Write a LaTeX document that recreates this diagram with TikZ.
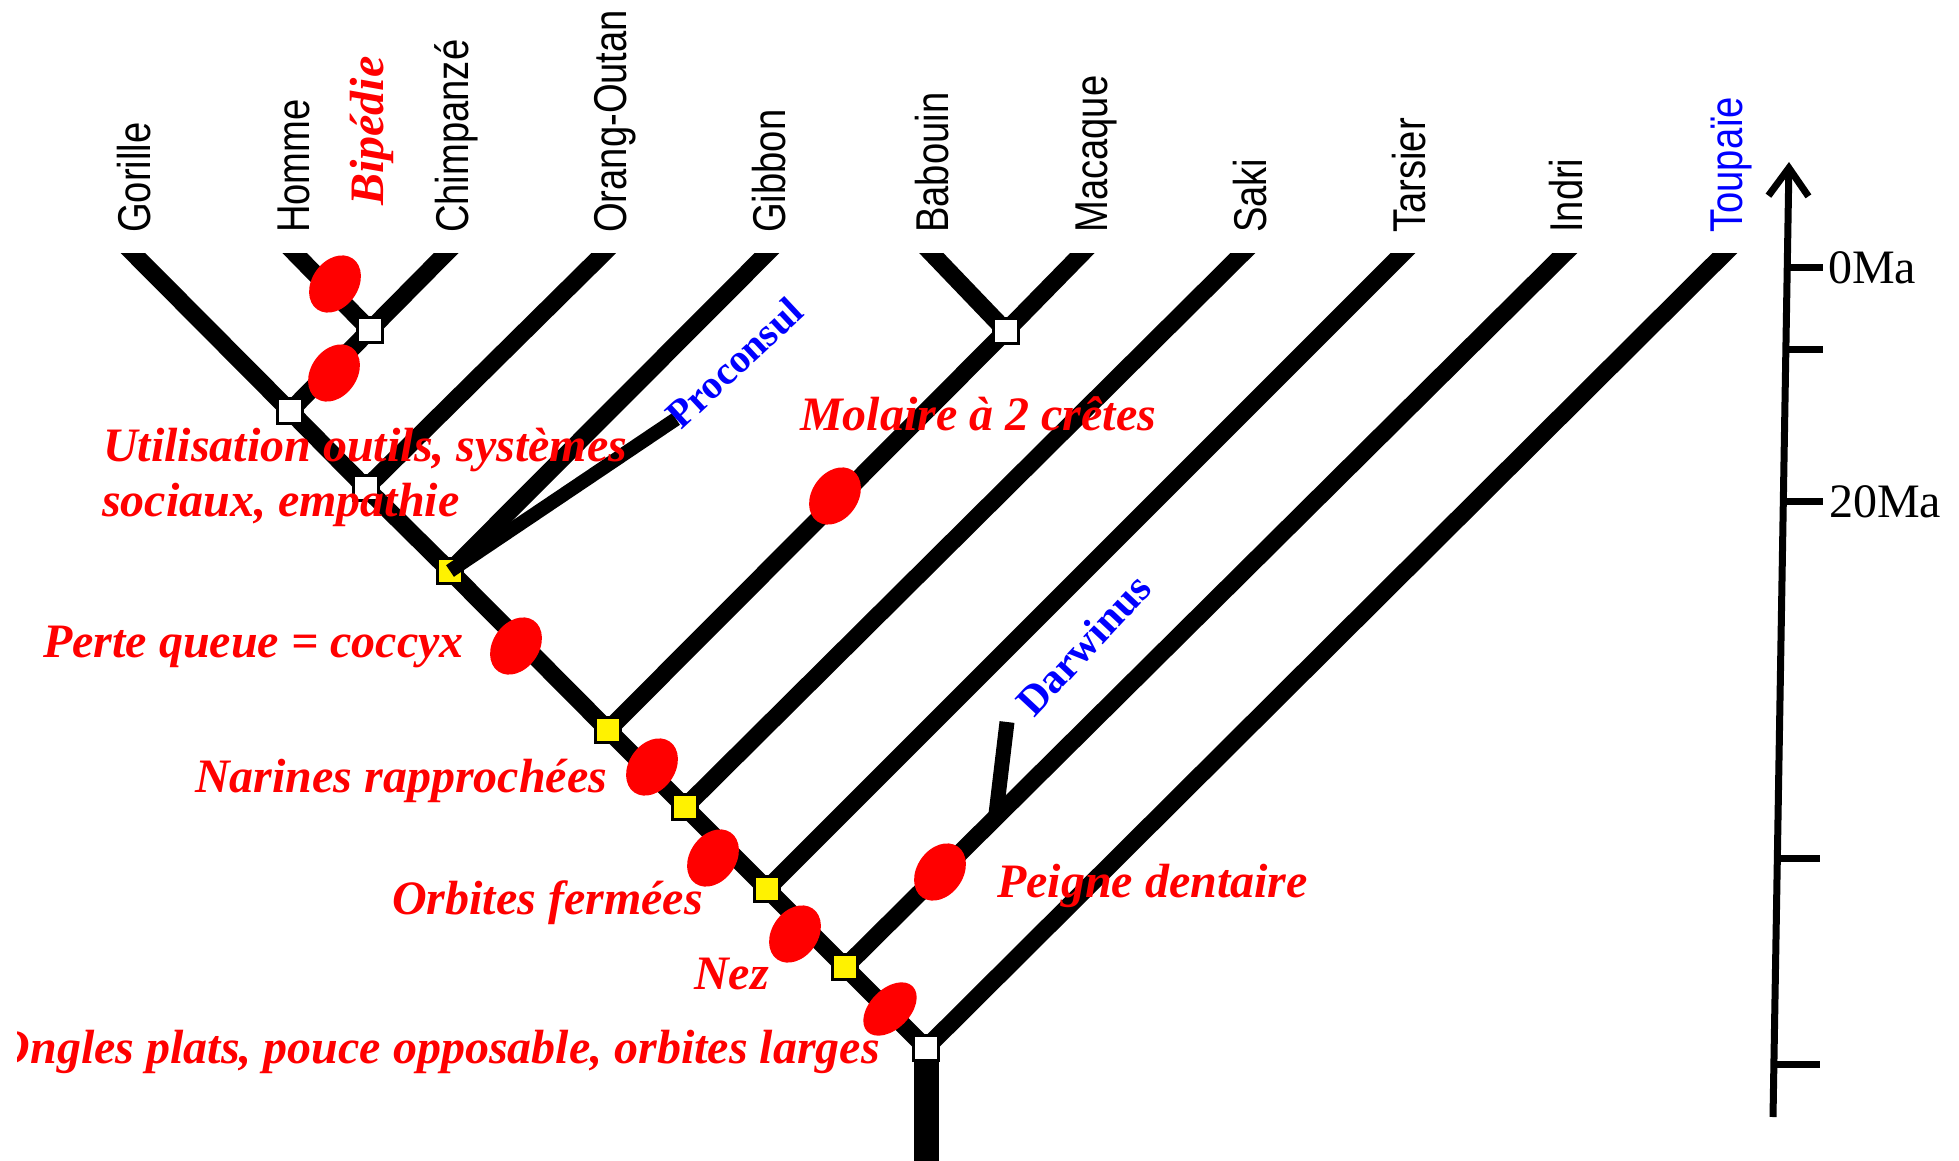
\documentclass[tikz,border=0pt]{standalone}
\usepackage{fontspec}
\setmainfont{Liberation Serif}
\newfontfamily\lsans{Liberation Sans}
\usetikzlibrary{shapes.geometric,arrows.meta,calc}
\tikzset{
  branch/.style={line width=17.5pt, draw=black},
  trunkline/.style={line width=25pt, draw=black},
  fosline/.style={line width=14pt, draw=black},
  nodesq/.style={draw=black, line width=3.8pt, minimum size=25pt, inner sep=0pt, fill=white},
  ysq/.style={nodesq, fill=yellow},
  trait/.style={ellipse, fill=red, inner sep=0pt, minimum width=62pt, minimum height=46pt, rotate=55},
  rtext/.style={red, font=\fontsize{48}{56}\selectfont\bfseries\itshape, inner sep=0pt, anchor=base west},
  taxon/.style={font=\lsans\fontsize{46}{46}\selectfont, inner sep=0pt, anchor=base west, rotate=90},
  fossil/.style={blue, font=\fontsize{40}{40}\selectfont\bfseries, inner sep=0pt, anchor=base west},
  axisline/.style={line width=7pt, draw=black},
  ticktext/.style={font=\fontsize{48}{48}\selectfont, inner sep=0pt, anchor=base west},
}
\newcommand{\cond}[1]{\scalebox{0.83}[1]{#1}}
\begin{document}
\begin{tikzpicture}[x=1pt,y=-1pt]
\useasboundingbox (0,0) rectangle (1959,1161);
\fill[white] (0,0) rectangle (1959,1161);

% node positions
\coordinate (pR) at (926,1048);
\coordinate (pY1) at (845,967);
\coordinate (pY2) at (767,889);
\coordinate (pY3) at (685,807);
\coordinate (pY4) at (608,730);
\coordinate (pY5) at (450,571);
\coordinate (pW) at (366,488);
\coordinate (pG) at (290,411);
\coordinate (pHC) at (370,330);
\coordinate (pBM) at (1006,331);
% tips (beyond the cut at y=253)
\coordinate (tGor) at (115,235);
\coordinate (tHom) at (277,235);
\coordinate (tChi) at (464,235);
\coordinate (tOra) at (622,235);
\coordinate (tGib) at (785,235);
\coordinate (tBab) at (914,235);
\coordinate (tMac) at (1100,235);
\coordinate (tSak) at (1261,235);
\coordinate (tTar) at (1421,235);
\coordinate (tInd) at (1583,235);
\coordinate (tTou) at (1743,235);
\coordinate (rootbot) at (926,1180);

\begin{scope}
\clip (0,253) rectangle (1959,1161);
\draw[branch] (pR) -- (pY1) -- (pY2) -- (pY3) -- (pY4) -- (pY5) -- (pW) -- (pG) -- (tGor);
\draw[branch] (pG) -- (pHC);
\draw[branch] (pHC) -- (tHom);
\draw[branch] (pHC) -- (tChi);
\draw[branch] (pW) -- (tOra);
\draw[branch] (pY5) -- (tGib);
\draw[branch] (pY4) -- (pBM);
\draw[branch] (pBM) -- (tBab);
\draw[branch] (pBM) -- (tMac);
\draw[branch] (pY3) -- (tSak);
\draw[branch] (pY2) -- (tTar);
\draw[branch] (pY1) -- (tInd);
\draw[branch] (pR) -- (tTou);
\draw[trunkline] (pR) -- (rootbot);
\end{scope}

% nodes
\node[nodesq] (R) at (pR) {};
\node[ysq] (Y1) at (pY1) {};
\node[ysq] (Y2) at (pY2) {};
\node[ysq] (Y3) at (pY3) {};
\node[ysq] (Y4) at (pY4) {};
\node[ysq] (Y5) at (pY5) {};
\node[nodesq] (W) at (pW) {};
\node[nodesq] (G) at (pG) {};
\node[nodesq] (HC) at (pHC) {};
\node[nodesq] (BM) at (pBM) {};

% fossils
\coordinate (pcEnd) at (676,419);
\draw[fosline] (Y5.center) -- (pcEnd);
\coordinate (dwBase) at (996,814);
\coordinate (dwEnd) at (1007,722);
\draw[fosline, line width=15pt] (dwBase) -- (dwEnd);
\node[fossil, rotate=43] (proconsul) at (681,431) {Proconsul};
\node[fossil, rotate=47, font=\fontsize{42}{42}\selectfont\bfseries] (darwinus) at (1034,719) {Darwinus};

% traits
\node[trait] (eBip) at (335,284) {};
\node[trait] (eUtil) at (334,373) {};
\node[trait] (eMol) at (835,496) {};
\node[trait] (ePerte) at (516,646) {};
\node[trait] (eNar) at (652,767) {};
\node[trait] (eOrb) at (713,858) {};
\node[trait] (eNez) at (795,934) {};
\node[trait, rotate=-10, minimum width=64pt, minimum height=40pt] (eOng) at (890,1009) {};
\node[trait] (ePei) at (940,872) {};

% taxon labels
\node[taxon] (lGor) at (150,233) {\cond{Gorille}};
\node[taxon] (lHom) at (309,233) {\cond{Homme}};
\node[taxon] (lChi) at (468,233) {\cond{Chimpanzé}};
\node[taxon] (lOra) at (626,233) {\cond{Orang-Outan}};
\node[taxon] (lGib) at (785,233) {\cond{Gibbon}};
\node[taxon] (lBab) at (948,233) {\cond{Babouin}};
\node[taxon] (lMac) at (1107,233) {\cond{Macaque}};
\node[taxon] (lSak) at (1266,233) {\cond{Saki}};
\node[taxon] (lTar) at (1425,233) {\cond{Tarsier}};
\node[taxon] (lInd) at (1582,233) {\cond{Indri}};
\node[taxon, blue] (lTou) at (1742,233) {\cond{Toupaïe}};

% trait texts
\node[rtext, rotate=90] (tBip) at (383,206) {Bipédie};
\node[rtext] (tUtil1) at (103,461) {Utilisation outils, systèmes};
\node[rtext] (tUtil2) at (102,516) {sociaux, empathie};
\node[rtext] (tMol) at (800,430) {Molaire à 2 crêtes};
\node[rtext] (tPerte) at (43,657) {Perte queue = coccyx};
\node[rtext] (tNar) at (195,792) {Narines rapprochées};
\node[rtext] (tOrb) at (392,914) {Orbites fermées};
\node[rtext] (tNez) at (694,989) {Nez};
\begin{scope}
\clip (17,0) rectangle (1959,1161);
\node[rtext, anchor=base east] (tOng) at (880,1063) {Ongles plats, pouce opposable, orbites larges};
\end{scope}
\node[rtext] (tPei) at (997,897) {Peigne dentaire};

% time axis
\coordinate (axBot) at (1773,1117);
\coordinate (axTop) at (1789,162);
\draw[axisline, -{Straight Barb[length=28pt,width=40pt]}] (axBot) -- (axTop);
\coordinate (k0) at (1787,267);
\coordinate (k1) at (1786,349);
\coordinate (k2) at (1783,501);
\coordinate (k3) at (1777,858);
\coordinate (k4) at (1774,1064);
\coordinate (k0e) at (1823,267);
\coordinate (k1e) at (1823,349);
\coordinate (k2e) at (1823,501);
\coordinate (k3e) at (1820,858);
\coordinate (k4e) at (1820,1064);
\draw[axisline] (k0) -- (k0e);
\draw[axisline] (k1) -- (k1e);
\draw[axisline] (k2) -- (k2e);
\draw[axisline] (k3) -- (k3e);
\draw[axisline] (k4) -- (k4e);
\node[ticktext] (l0) at (1828,283) {0Ma};
\node[ticktext] (l20) at (1829,517) {20Ma};
\end{tikzpicture}
\end{document}
